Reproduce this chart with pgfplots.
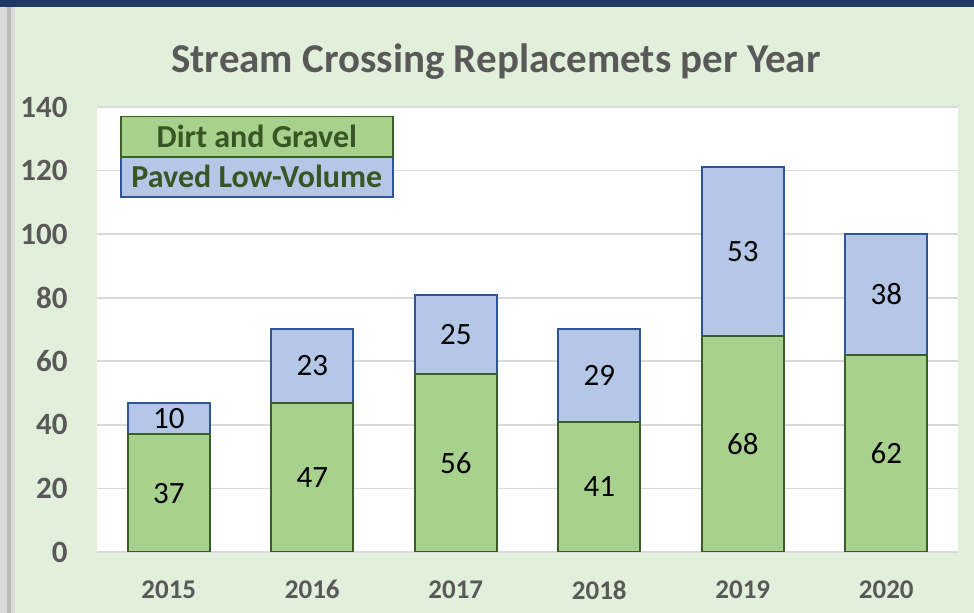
\documentclass[border=0pt]{standalone}
\usepackage{fontspec}
\setmainfont{Carlito}
\usepackage{pgfplots}
\pgfplotsset{compat=1.18}
\usepackage{pgfplotstable}
\definecolor{chartbg}{HTML}{E2EFDA}
\definecolor{navy}{HTML}{1F3864}
\definecolor{dgfill}{HTML}{A9D18E}
\definecolor{dgline}{HTML}{3B5E26}
\definecolor{pvfill}{HTML}{B4C7E7}
\definecolor{pvline}{HTML}{2F5597}
\definecolor{txtgrey}{HTML}{595959}
\definecolor{legtxt}{HTML}{375623}
\definecolor{gridgrey}{HTML}{D9D9D9}

\pgfplotstableread{
x dg pv
0 37 10
1 47 23
2 56 25
3 41 29
4 68 53
5 62 38
}\crossings

\begin{document}
\begin{tikzpicture}
% chart frame, 487pt x 306.5pt (1px = 0.5pt)
\fill[chartbg] (0pt,0pt) rectangle (487pt,306.5pt);
\fill[navy] (0pt,303pt) rectangle (487pt,306.5pt);
\fill[gray!30] (0pt,0pt) rectangle (7.5pt,303pt);
\fill[gray!55] (3.5pt,0pt) rectangle (5.5pt,303pt);
\node[anchor=base, font=\bfseries\fontsize{20.5}{22}\selectfont, text=txtgrey]
  at (248pt,270pt) {Stream Crossing Replacemets per Year};
\begin{axis}[
  at={(48.5pt,30.5pt)}, anchor=south west,
  scale only axis, width=430.5pt, height=222.5pt,
  axis background/.style={fill=white},
  ybar stacked, bar width=41pt,
  xmin=-0.5, xmax=5.5, ymin=0, ymax=140,
  xtick=data, xticklabels={2015,2016,2017,2018,2019,2020},
  ytick={0,20,...,140},
  major tick length=0pt,
  axis line style={draw=none},
  ymajorgrids, grid style={gridgrey, line width=0.9pt},
  /pgf/number format/assume math mode=true,
  ticklabel style={font=\bfseries\fontsize{13.5}{15}\selectfont, text=txtgrey, inner sep=0pt},
  yticklabel style={font=\bfseries\fontsize{15.5}{17}\selectfont, xshift=-14.5pt},
  xticklabel style={yshift=-14pt},
  nodes near coords,
  every node near coord/.append style={anchor=center, text=black,
    font=\fontsize{15.5}{17}\selectfont},
]
\addplot[fill=dgfill, draw=dgline, line width=1pt]
  table[x=x, y=dg, meta=dg, point meta=explicit] {\crossings};
\addplot[fill=pvfill, draw=pvline, line width=1pt]
  table[x=x, y=pv, meta=pv, point meta=explicit] {\crossings};
\node[draw=dgline, fill=dgfill, line width=0.8pt, minimum width=136pt,
  minimum height=20pt, anchor=north west, inner sep=0pt,
  font=\bfseries\fontsize{16}{18}\selectfont, text=legtxt]
  at (rel axis cs:0.0267,0.98) {Dirt and Gravel};
\node[draw=pvline, fill=pvfill, line width=0.8pt, minimum width=136pt,
  minimum height=20pt, anchor=north west, inner sep=0pt,
  font=\bfseries\fontsize{16}{18}\selectfont, text=legtxt]
  at (rel axis cs:0.0267,0.89) {Paved Low-Volume};
\end{axis}
\end{tikzpicture}
\end{document}
